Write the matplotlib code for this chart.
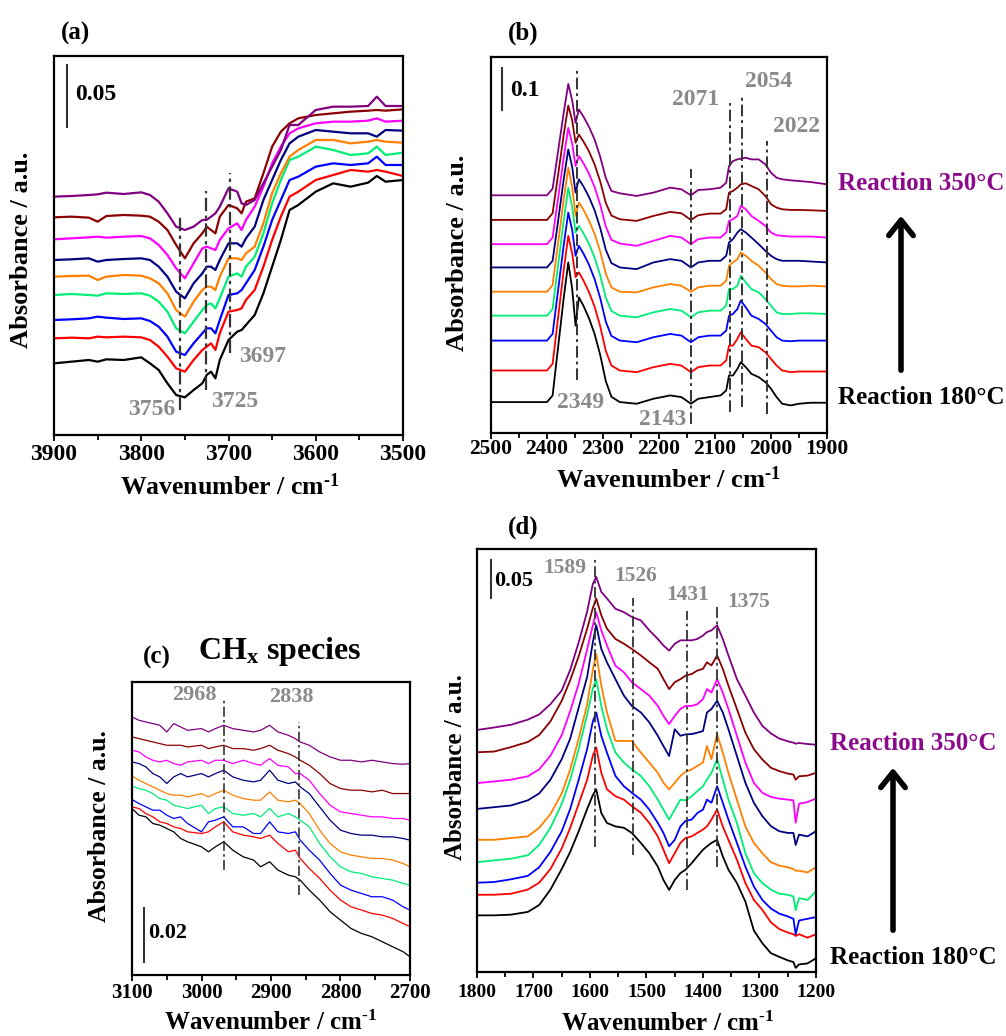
import numpy as np
import matplotlib.pyplot as plt
from matplotlib.patches import FancyArrowPatch
from matplotlib.ticker import MultipleLocator

plt.rcParams['font.family'] = ['Liberation Serif', 'DejaVu Serif']
plt.rcParams['font.weight'] = 'bold'
plt.rcParams['mathtext.fontset'] = 'custom'
plt.rcParams['mathtext.rm'] = 'Liberation Serif:bold'
plt.rcParams['mathtext.it'] = 'Liberation Serif:italic:bold'
plt.rcParams['mathtext.bf'] = 'Liberation Serif:bold'

W, H = 1006, 1036
GRAY = '#8a8a8a'
DASH = (0, (6, 2, 1.5, 2))

# spectra from bottom (180 C) to top (350 C)
colors = ['#000000', '#ff0000', '#0000ff', '#00ee76', '#ff8000',
          '#000080', '#ff00ff', '#8b0000', '#800080']

# ---- (a) OH region, offset readings (187 units = 0.05 a.u.)
wn_a = [3900, 3880, 3860, 3850, 3840, 3820, 3800, 3790, 3780, 3770, 3760, 3750,
        3740, 3730, 3725, 3720, 3715, 3710, 3700, 3690, 3685, 3680, 3670, 3660,
        3650, 3640, 3630, 3620, 3600, 3580, 3560, 3540, 3530, 3520, 3500]
a_black = [215, 220, 225, 220, 227, 225, 233, 215, 195, 155, 120, 113, 135, 155, 180, 190, 170, 225,
           285, 310, 315, 330, 360, 425, 505, 585, 675, 690, 730, 755, 745, 757, 777, 760, 765]
a_red = [290, 292, 290, 295, 293, 295, 293, 285, 265, 235, 200, 190, 225, 255, 265, 275, 255, 305,
         370, 375, 380, 405, 435, 505, 585, 655, 715, 730, 765, 780, 795, 790, 795, 790, 777]
a_blue = [345, 347, 350, 355, 352, 348, 350, 342, 325, 295, 250, 240, 275, 305, 320, 320, 305, 345,
          420, 425, 435, 455, 495, 565, 645, 705, 765, 775, 805, 815, 810, 815, 835, 810, 810]
a_green = [420, 423, 420, 418, 425, 423, 425, 418, 400, 370, 320, 305, 340, 375, 390, 395, 380, 410,
           475, 485, 475, 505, 535, 605, 695, 765, 825, 835, 865, 855, 840, 845, 865, 840, 847]
a_orange = [475, 477, 478, 465, 475, 480, 478, 470, 455, 425, 375, 355, 400, 435, 445, 445, 435, 475,
            530, 530, 525, 545, 565, 635, 725, 785, 835, 855, 885, 885, 875, 880, 885, 880, 877]
a_navy = [525, 527, 530, 520, 525, 528, 530, 525, 505, 475, 430, 410, 455, 485, 505, 505, 495, 525,
          575, 575, 565, 590, 625, 705, 765, 825, 875, 895, 915, 910, 905, 905, 895, 915, 913]
a_magenta = [587, 590, 593, 595, 592, 595, 597, 590, 570, 540, 500, 470, 515, 560, 565, 560, 555, 585,
             620, 635, 615, 645, 685, 745, 815, 865, 905, 920, 935, 940, 940, 943, 950, 940, 943]
a_maroon = [653, 655, 652, 640, 657, 660, 658, 655, 640, 615, 570, 530, 575, 605, 625, 615, 605, 655,
            690, 680, 665, 700, 710, 785, 865, 910, 935, 950, 960, 965, 970, 973, 975, 973, 977]
a_purple = [715, 717, 720, 722, 727, 723, 728, 720, 700, 665, 625, 615, 625, 645, 645, 655, 665, 685,
            740, 730, 695, 690, 705, 755, 805, 855, 930, 930, 975, 985, 985, 987, 1015, 987, 987]

# ---- (b) CO2 / CO region (125 units = 0.1 a.u.)
wn_b = [2500, 2450, 2400, 2390, 2380, 2370, 2362, 2355, 2349, 2343, 2335, 2325, 2315, 2305,
        2295, 2285, 2270, 2240, 2210, 2180, 2160, 2143, 2130, 2110, 2090, 2080, 2075, 2068,
        2060, 2054, 2045, 2035, 2022, 2010, 2000, 1990, 1980, 1965, 1950, 1930, 1900]
b_black = [93, 93, 93, 113, 261, 408, 513, 433, 323, 408, 383, 345, 298, 235, 156, 109, 93,
           88, 103, 113, 108, 88, 103, 108, 113, 128, 173, 173, 193, 213, 198, 178, 168,
           153, 133, 108, 88, 83, 88, 91, 91]
b_red = [188, 188, 188, 208, 350, 492, 593, 540, 469, 483, 459, 424, 380, 321, 247, 203, 188,
         183, 198, 208, 203, 183, 198, 203, 203, 218, 263, 263, 283, 303, 283, 263, 258,
         243, 223, 203, 188, 183, 185, 185, 185]
b_blue = [278, 278, 278, 298, 432, 567, 663, 610, 533, 563, 540, 506, 463, 406, 335, 292, 278,
          273, 288, 298, 293, 273, 288, 293, 293, 308, 353, 358, 373, 398, 378, 353, 343,
          328, 308, 288, 278, 276, 278, 278, 278]
b_green = [353, 353, 353, 373, 507, 642, 738, 680, 603, 623, 601, 569, 528, 474, 407, 367, 353,
           348, 363, 373, 368, 348, 363, 368, 368, 383, 433, 433, 443, 473, 453, 433, 423,
           403, 383, 363, 358, 358, 360, 360, 358]
b_orange = [425, 425, 425, 445, 574, 705, 798, 740, 653, 693, 672, 639, 599, 546, 479, 438, 425,
            423, 438, 448, 443, 425, 438, 443, 443, 458, 503, 513, 523, 543, 533, 518, 503,
            483, 463, 448, 443, 441, 441, 443, 441]
b_navy = [498, 498, 498, 518, 640, 765, 853, 800, 723, 763, 742, 710, 670, 617, 551, 511, 498,
          493, 513, 523, 518, 498, 513, 518, 518, 533, 573, 583, 603, 613, 603, 588, 568,
          548, 533, 523, 518, 518, 518, 516, 513]
b_magenta = [568, 568, 568, 588, 708, 830, 918, 870, 803, 833, 812, 780, 740, 687, 621, 581, 570,
             563, 578, 593, 588, 568, 583, 588, 588, 603, 638, 643, 653, 683, 673, 653, 638,
             623, 603, 595, 593, 591, 591, 591, 588]
b_maroon = [641, 641, 641, 661, 779, 899, 985, 940, 873, 898, 877, 847, 808, 757, 692, 654, 643,
            638, 653, 665, 661, 641, 655, 660, 660, 673, 723, 728, 738, 748, 751, 743, 733,
            713, 688, 678, 673, 671, 671, 670, 668]
b_purple = [715, 715, 715, 735, 850, 965, 1050, 1000, 933, 973, 952, 921, 883, 831, 767, 728, 721,
            713, 723, 738, 733, 715, 731, 733, 738, 753, 803, 818, 823, 825, 828, 823, 823,
            808, 783, 768, 763, 760, 758, 755, 748]

# ---- (c) CHx region (160 units = 0.02 a.u.)
wn_c = [3100, 3090, 3080, 3070, 3060, 3050, 3040, 3030, 3020, 3000, 2990, 2980, 2968, 2955,
        2940, 2925, 2915, 2902, 2890, 2875, 2865, 2858, 2845, 2830, 2815, 2800, 2785, 2770,
        2755, 2740, 2725, 2710, 2700]
c_black = [500, 480, 475, 455, 450, 440, 430, 410, 400, 385, 370, 385, 400, 375, 355, 345, 325,
           340, 315, 300, 295, 285, 255, 225, 190, 165, 140, 125, 115, 100, 85, 70, 55]
c_red = [505, 500, 485, 475, 460, 455, 445, 440, 430, 425, 430, 445, 460, 430, 420, 415, 410,
         420, 395, 370, 375, 350, 320, 290, 255, 225, 205, 195, 185, 180, 170, 155, 145]
c_blue = [527, 515, 505, 495, 495, 480, 470, 475, 455, 430, 460, 465, 475, 445, 445, 425, 425,
          460, 430, 425, 430, 405, 375, 345, 305, 270, 255, 245, 235, 235, 225, 205, 195]
c_green = [567, 560, 555, 545, 530, 525, 510, 505, 500, 510, 485, 500, 505, 485, 480, 485, 475,
           500, 475, 485, 475, 465, 445, 395, 355, 325, 310, 305, 295, 290, 285, 275, 270]
c_orange = [597, 585, 575, 565, 555, 545, 540, 540, 535, 545, 535, 545, 555, 540, 530, 525, 525,
            550, 525, 520, 525, 515, 485, 435, 395, 370, 360, 355, 350, 350, 345, 335, 325]
c_navy = [640, 635, 625, 605, 595, 575, 595, 605, 595, 605, 595, 605, 615, 595, 585, 580, 585,
          615, 585, 575, 580, 565, 545, 505, 465, 435, 425, 420, 420, 415, 415, 410, 405]
c_magenta = [675, 670, 655, 645, 640, 645, 635, 630, 640, 645, 635, 645, 645, 635, 645, 635, 630,
             650, 630, 625, 605, 605, 585, 545, 510, 490, 485, 480, 475, 475, 470, 470, 465]
c_maroon = [715, 710, 705, 700, 695, 690, 690, 690, 685, 690, 680, 685, 690, 680, 680, 675, 680,
            690, 675, 665, 655, 645, 630, 605, 575, 560, 555, 555, 550, 555, 545, 545, 545]
c_purple = [775, 765, 760, 755, 750, 730, 755, 745, 735, 740, 730, 740, 750, 740, 735, 730, 735,
            750, 730, 720, 710, 700, 690, 670, 655, 645, 645, 640, 645, 640, 635, 633, 635]

# ---- (d) carbonate / formate region (112 units = 0.05 a.u.)
wn_d = [1800, 1770, 1740, 1710, 1690, 1670, 1650, 1635, 1620, 1605, 1595, 1589, 1580, 1570, 1555,
        1540, 1526, 1510, 1495, 1480, 1470, 1460, 1450, 1440, 1431, 1420, 1410, 1400, 1393, 1385,
        1375, 1365, 1355, 1340, 1325, 1310, 1295, 1280, 1265, 1250, 1240, 1236, 1230, 1215, 1200]
d_black = [165, 165, 167, 175, 195, 240, 300, 350, 410, 475, 515, 532, 463, 434, 424,
           420, 405, 376, 346, 307, 268, 239, 268, 288, 298, 317, 337, 356, 366, 376,
           385, 337, 298, 259, 205, 121, 84, 55, 44, 34, 29, 12, 22, 25, 40]
d_red = [225, 225, 228, 240, 260, 300, 360, 420, 490, 560, 630, 654, 580, 532, 512,
         502, 483, 464, 434, 395, 356, 317, 346, 376, 390, 395, 405, 415, 424, 444,
         473, 424, 385, 327, 259, 210, 181, 145, 125, 115, 110, 105, 110, 100, 110]
d_blue = [260, 262, 270, 280, 305, 350, 410, 475, 560, 650, 730, 756, 688, 639, 571,
          541, 522, 502, 473, 434, 405, 366, 385, 424, 440, 444, 463, 473, 502, 493,
          541, 493, 444, 376, 307, 249, 210, 185, 170, 162, 155, 110, 150, 155, 160]
d_green = [320, 325, 330, 340, 370, 420, 490, 560, 650, 750, 825, 853, 775, 707, 639,
           610, 590, 571, 541, 502, 473, 444, 473, 502, 500, 512, 527, 541, 561, 580,
           620, 561, 502, 434, 346, 288, 259, 240, 228, 225, 220, 180, 215, 210, 235]
d_orange = [385, 385, 390, 395, 420, 460, 520, 590, 680, 780, 880, 927, 834, 756, 673,
            673, 673, 639, 610, 580, 551, 532, 551, 571, 583, 590, 600, 610, 658, 620,
            693, 639, 580, 502, 424, 376, 346, 320, 310, 305, 300, 295, 295, 290, 305]
d_navy = [475, 480, 485, 500, 520, 560, 620, 680, 770, 860, 960, 1010, 941, 902, 853,
          805, 775, 756, 727, 688, 658, 629, 707, 688, 692, 693, 697, 702, 756, 766,
          790, 756, 707, 629, 551, 493, 454, 425, 410, 405, 405, 370, 400, 395, 410]
d_magenta = [550, 555, 560, 570, 590, 630, 690, 760, 840, 940, 1010, 1048, 995, 951, 892,
             873, 844, 824, 805, 775, 746, 722, 746, 766, 775, 775, 780, 795, 824, 814,
             853, 814, 766, 688, 610, 551, 522, 510, 505, 502, 500, 435, 490, 495, 505]
d_maroon = [640, 642, 655, 670, 690, 730, 790, 850, 920, 1000, 1060, 1088, 1039, 1000, 970,
            956, 941, 922, 902, 883, 853, 824, 844, 853, 863, 868, 878, 883, 902, 893,
            922, 883, 834, 766, 697, 649, 619, 595, 585, 578, 575, 560, 570, 572, 580]
d_purple = [705, 712, 720, 735, 750, 780, 820, 880, 960, 1050, 1130, 1151, 1107, 1088, 1058,
            1048, 1034, 1024, 995, 970, 951, 936, 956, 966, 966, 966, 970, 980, 990, 995,
            1010, 970, 922, 853, 805, 756, 717, 695, 680, 672, 668, 665, 667, 664, 662]

# peak markers: (position, bottom, top) and labels (text, x, y)
peaks_a = [(3756, 75, 655), (3726, 135, 733), (3698, 245, 785)]
labels_a = [('3756', 3788, 77), ('3725', 3693, 100), ('3697', 3661, 237)]
peaks_b = [(2347, 158, 1091), (2143, 28, 793), (2074, 63, 993), (2052, 78, 1013), (2008, 58, 878)]
labels_b = [('2349', 2340, 93), ('2143', 2193, 40), ('2071', 2134, 1003),
            ('2054', 2005, 1058), ('2022', 1955, 921)]
peaks_c = [(2968, 315, 830), (2860, 240, 760)]
labels_c = [('2968', 3010, 840), ('2838', 2870, 835)]
peaks_d = [(1592, 365, 1210), (1524, 340, 1090), (1428, 240, 1050), (1375, 305, 1070)]
labels_d = [('1589', 1644, 1178), ('1526', 1520, 1153), ('1431', 1428, 1097), ('1375', 1319, 1079)]

fig = plt.figure(figsize=(W / 100, H / 100), dpi=100)


def fx(x):
    return x / W


def fy(y):
    return 1 - y / H


def panel(box, wn, curves, unit, top, xlim, lw, tick_fs, pad,
          peaks, labels, lab_fs, dash_lw, bar, bar_text, bar_fs):
    l, t, r, b = box
    ax = fig.add_axes([fx(l), fy(b), (r - l) / W, (b - t) / H])
    for vals, c in zip(curves, colors):
        ax.plot(wn, np.array(vals) * unit, color=c, lw=lw, solid_joinstyle='round')
    for x0, y0, y1 in peaks:
        ax.plot([x0, x0], [y0 * unit, y1 * unit], color='#333333', lw=dash_lw, ls=DASH)
    for txt, x0, y0 in labels:
        ax.text(x0, y0 * unit, txt, color=GRAY, fontsize=lab_fs, ha='center', va='center')
    bx, by0, by1, tx, ty = bar
    ax.plot([bx, bx], [by0 * unit, by1 * unit], color='#333333', lw=1.5)
    ax.text(tx, ty * unit, bar_text, fontsize=bar_fs, ha='left', va='center')
    ax.set_xlim(*xlim)
    ax.set_ylim(0, top * unit)
    ax.set_yticks([])
    ax.xaxis.set_major_locator(MultipleLocator(100))
    ax.xaxis.set_minor_locator(MultipleLocator(50))
    ax.tick_params(axis='x', which='both', direction='out', width=1.3,
                   labelsize=tick_fs, pad=pad, top=False)
    ax.tick_params(axis='x', which='major', length=4.5)
    ax.tick_params(axis='x', which='minor', length=3.5)
    for s in ax.spines.values():
        s.set_linewidth(1.6)
    return ax


panel((54, 56, 403, 435), wn_a,
      [a_black, a_red, a_blue, a_green, a_orange, a_navy, a_magenta, a_maroon, a_purple],
      0.05 / 187, 1137, (3900, 3500), 1.6, 17, 2, peaks_a, labels_a, 17, 1.6,
      (3885, 923, 1110, 3876, 1023), '0.05', 17)
panel((491, 57, 827, 433), wn_b,
      [b_black, b_red, b_blue, b_green, b_orange, b_navy, b_magenta, b_maroon, b_purple],
      0.1 / 125, 1131, (2500, 1900), 1.3, 15.5, 0, peaks_b, labels_b, 17, 1.4,
      (2480, 973, 1098, 2466, 1031), '0.1', 17)
panel((132, 682, 410, 975), wn_c,
      [c_black, c_red, c_blue, c_green, c_orange, c_navy, c_magenta, c_maroon, c_purple],
      0.02 / 160, 880, (3100, 2700), 0.9, 15, 1, peaks_c, labels_c, 16, 1.2,
      (3083, 40, 200, 3077, 125), '0.02', 16)
panel((477, 549, 816, 972), wn_d,
      [d_black, d_red, d_blue, d_green, d_orange, d_navy, d_magenta, d_maroon, d_purple],
      0.05 / 112, 1232, (1800, 1200), 1.3, 14, 4, peaks_d, labels_d, 15.5, 1.3,
      (1776, 1089, 1201, 1769, 1140), '0.05', 16)

# axis titles
xlab = 'Wavenumber / cm$^{\u2010\\mathrm{1}}$'
ylab = 'Absorbance / a.u.'
for x, y, fs in [(230, 487, 18.5), (668, 480, 19), (271, 1023, 18), (668, 1024, 18)]:
    fig.text(fx(x), fy(y), xlab, fontsize=fs, ha='center', va='center')
for x, y, fs in [(22, 250, 19), (458, 253, 19), (99, 826, 18.5), (455, 767, 18)]:
    fig.text(fx(x), fy(y), ylab, fontsize=fs, ha='center', va='center', rotation=90)

# panel letters
for txt, x, y in [('(a)', 76, 33), ('(b)', 523, 33), ('(c)', 157, 657), ('(d)', 523, 527)]:
    fig.text(fx(x), fy(y), txt, fontsize=18, ha='center', va='center')
fig.text(fx(280), fy(652), 'CH$_\\mathrm{x}$ species', fontsize=23, ha='center', va='center')

# temperature direction
for xc, y_hi, y_lo, xa, tip, tail in [(921, 183, 397, 901, 213, 373),
                                       (913, 743, 957, 893, 765, 933)]:
    fig.text(fx(xc), fy(y_hi), 'Reaction 350°C', color='#8b0a8b', fontsize=18,
             ha='center', va='center')
    fig.text(fx(xc), fy(y_lo), 'Reaction 180°C', color='black', fontsize=18,
             ha='center', va='center')
    arr = FancyArrowPatch((fx(xa), fy(tail)), (fx(xa), fy(tip)), transform=fig.transFigure,
                          arrowstyle='->,head_length=0.5,head_width=0.4',
                          mutation_scale=22, lw=4, color='black')
    fig.patches.append(arr)

fig.savefig('out.png', dpi=100)
